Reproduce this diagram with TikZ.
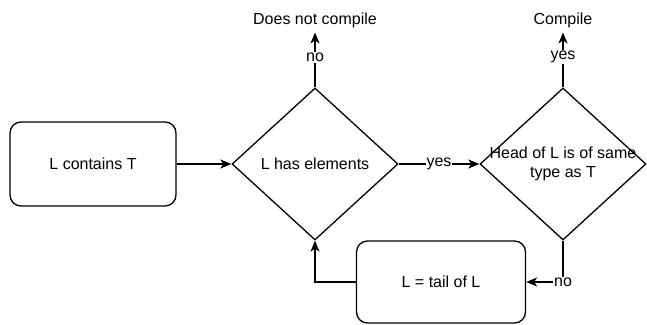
\documentclass[tikz,border=0pt]{standalone}
\usepackage{fontspec}
\setmainfont{Liberation Sans}
\usetikzlibrary{shapes.geometric,arrows.meta}
\begin{document}
\begin{tikzpicture}[x=1pt,y=-1pt,
  font=\fontsize{16}{19.5}\selectfont,
  line width=1.3pt,
  box/.style={draw,rounded corners=11pt,minimum width=166pt,minimum height=84pt,inner sep=0pt},
  decision/.style={draw,diamond,minimum width=166pt,minimum height=152pt,inner sep=0pt},
  outcome/.style={anchor=base,inner sep=4.5pt},
  lbl/.style={fill=white,inner sep=1pt},
  flow/.style={-{Stealth[length=11pt,width=9pt,inset=3pt]}}]
\useasboundingbox (0,0) rectangle (647,324);

\node[box] (contains) at (93,164) {L contains T};
\node[decision] (haselem) at (315,164) {L has elements};
\node[decision, label={[align=center]center:Head of L is of same\\type as T}] (sametype) at (563,164) {};
\node[box, minimum width=169pt, minimum height=82pt] (tail) at (441,282) {L = tail of L};
\node[outcome] (nocompile) at (315,24) {Does not compile};
\node[outcome] (compile) at (563,24) {Compile};

\draw[flow] (contains) -- (haselem);
\draw[flow] (haselem.north) -- (nocompile.south) node[lbl, pos=0.55]{no};
\draw[flow] (haselem.east) -- (sametype.west) node[lbl, midway]{yes};
\draw[flow] (sametype.north) -- (compile.south) node[lbl, pos=0.55]{yes};
\draw[flow] (sametype.south) |- (tail.east) node[lbl, pos=0.5]{no};
\draw[flow] (tail.west) -| (haselem.south);
\end{tikzpicture}
\end{document}
